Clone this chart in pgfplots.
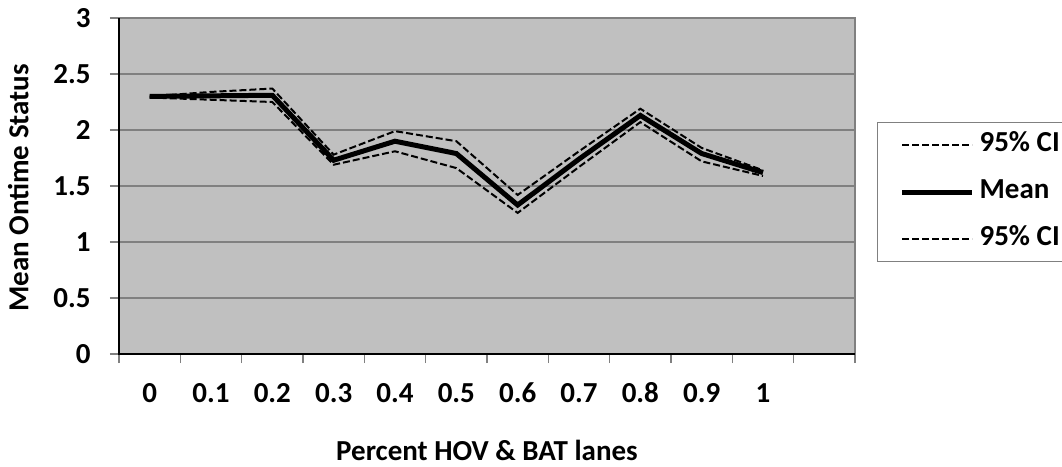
\documentclass[border=0pt]{standalone}
\usepackage{pgfplots}
\pgfplotsset{compat=1.18}
\usepackage{fontspec}
\setmainfont{Carlito}
\definecolor{plotbg}{RGB}{192,192,192}
\definecolor{gridgray}{RGB}{128,128,128}
\newcommand{\cf}{\fontsize{29bp}{34bp}\selectfont\bfseries}
\begin{document}
\begin{tikzpicture}
\useasboundingbox (-119bp,-113bp) rectangle (943bp,354bp);
\begin{axis}[
  at={(0,0)}, anchor=south west,
  width=736bp, height=336bp, scale only axis,
  xmin=-0.5, xmax=11.5, ymin=0, ymax=3,
  xtick={-0.5,0.5,...,11.5}, xticklabels={},
  extra x ticks={0,1,...,10},
  extra x tick labels={0,0.1,0.2,0.3,0.4,0.5,0.6,0.7,0.8,0.9,1},
  extra x tick style={major tick length=0pt, grid=none},
  ytick={0,0.5,...,3},
  ymajorgrids, xmajorgrids=false,
  grid style={gridgray, line width=1.5bp},
  tick style={gridgray, line width=1.5bp},
  major tick length=9bp,
  tick align=outside, tick pos=left,
  axis line style={gridgray, line width=2bp},
  axis background/.style={fill=plotbg},
  /pgf/number format/assume math mode=true,
  ticklabel style={font=\cf},
  xticklabel style={anchor=base, yshift=-48bp},
  yticklabel style={xshift=-16bp},
  xlabel={Percent HOV \& BAT lanes},
  ylabel={Mean Ontime Status},
  label style={font=\cf, inner sep=0pt},
  xlabel style={at={(axis description cs:0.5,-0.318)}, anchor=base},
  ylabel style={at={(axis description cs:-0.137,0.494)}, anchor=center},
  legend style={at={(axis description cs:1.030,0.690)}, anchor=north west,
    draw=gridgray, line width=1bp, fill=white, font=\cf,
    inner xsep=22bp, inner ysep=3bp, row sep=8bp,
    nodes={text height=21bp, text depth=8bp, inner sep=5bp},
    cells={anchor=west},
    /tikz/every odd column/.append style={column sep=0bp}},
  legend image code/.code={\draw[#1] (0bp,0bp) -- (70bp,0bp);},
  after end axis/.code={
    \draw[black, line width=2bp] (rel axis cs:0,1) -- (rel axis cs:0,0) -- (rel axis cs:1,0);
  },
]
\addplot[black, line width=2bp, dash pattern=on 7bp off 3bp] coordinates {
  (0,2.30) (1,2.34) (2,2.37) (3,1.78) (4,1.99) (5,1.90) (6,1.42) (7,1.81) (8,2.19) (9,1.84) (10,1.64)};
\addlegendentry{95\% CI}
\addplot[black, line width=5bp] coordinates {
  (0,2.30) (1,2.305) (2,2.31) (3,1.73) (4,1.90) (5,1.79) (6,1.33) (7,1.74) (8,2.13) (9,1.79) (10,1.62)};
\addlegendentry{Mean}
\addplot[black, line width=2bp, dash pattern=on 7bp off 3bp] coordinates {
  (0,2.29) (1,2.27) (2,2.25) (3,1.69) (4,1.81) (5,1.66) (6,1.26) (7,1.67) (8,2.07) (9,1.72) (10,1.59)};
\addlegendentry{95\% CI}
\end{axis}
\end{tikzpicture}
\end{document}
